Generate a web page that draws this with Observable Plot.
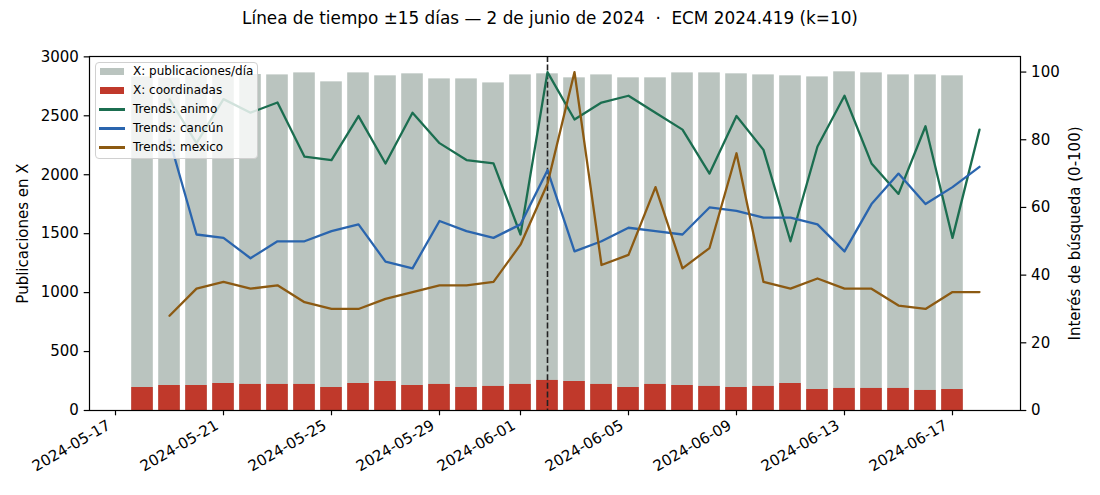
<!DOCTYPE html>
<html><head><meta charset="utf-8">
<script src="https://cdn.jsdelivr.net/npm/d3@7"></script>
<script src="https://cdn.jsdelivr.net/npm/@observablehq/plot@0.6"></script>
<style>
body{margin:0;background:#fff;}
#wrap{position:relative;width:1100px;height:495px;font-family:"DejaVu Sans",sans-serif;color:#000;}
#title{height:36px;line-height:36px;text-align:center;font-size:16.85px;white-space:pre;}
#legend{position:absolute;left:95px;top:62px;width:163px;height:97px;background:rgba(255,255,255,0.8);border:1px solid #d0d0d0;border-radius:4px;box-sizing:border-box;font-size:12px;}
.row{position:absolute;left:0;width:160px;height:19px;}
.row span.t{position:absolute;left:37px;top:0;line-height:19px;white-space:nowrap;}
.row span.p{position:absolute;left:3.5px;top:5.6px;width:24.5px;height:7.7px;}
.row span.l{position:absolute;left:3px;top:8.3px;width:26px;height:2.4px;}
svg{display:block;}
</style>
</head><body>
<div id="wrap">
<div id="title"></div>
<div id="chart"></div>
<div id="legend"></div>
</div>
<script>
const titleText = "Línea de tiempo ±15 días — 2 de junio de 2024  ·  ECM 2024.419 (k=10)";
const barDates = ["2024-05-18","2024-05-19","2024-05-20","2024-05-21","2024-05-22","2024-05-23","2024-05-24","2024-05-25","2024-05-26","2024-05-27","2024-05-28","2024-05-29","2024-05-30","2024-05-31","2024-06-01","2024-06-02","2024-06-03","2024-06-04","2024-06-05","2024-06-06","2024-06-07","2024-06-08","2024-06-09","2024-06-10","2024-06-11","2024-06-12","2024-06-13","2024-06-14","2024-06-15","2024-06-16","2024-06-17"];
const posts = [2830,2820,2840,2850,2850,2847,2864,2788,2864,2839,2856,2813,2813,2779,2847,2856,2822,2847,2822,2822,2864,2864,2856,2847,2839,2830,2873,2864,2847,2847,2839];
const coords = [195,212,212,229,221,221,221,195,229,246,212,221,195,204,221,255,246,221,195,221,212,204,195,204,229,178,187,187,187,170,178];
const trendDates = ["2024-05-19","2024-05-20","2024-05-21","2024-05-22","2024-05-23","2024-05-24","2024-05-25","2024-05-26","2024-05-27","2024-05-28","2024-05-29","2024-05-30","2024-05-31","2024-06-01","2024-06-02","2024-06-03","2024-06-04","2024-06-05","2024-06-06","2024-06-07","2024-06-08","2024-06-09","2024-06-10","2024-06-11","2024-06-12","2024-06-13","2024-06-14","2024-06-15","2024-06-16","2024-06-17","2024-06-18"];
const animo = [92,79,92,88,91,75,74,87,73,88,79,74,73,52,100,86,91,93,88,83,70,87,77,50,78,93,73,64,84,51,83];
const cancun = [80,52,51,45,50,50,53,55,44,42,56,53,51,55,71,47,50,54,53,52,60,59,57,57,55,47,61,70,61,66,72];
const mexico = [28,36,38,36,37,32,30,30,33,35,37,37,38,49,67,100,43,46,66,42,48,76,38,36,39,36,36,31,30,35,35];
const eventDate = "2024-06-02";
const xTicks = ["2024-05-17","2024-05-21","2024-05-25","2024-05-29","2024-06-01","2024-06-05","2024-06-09","2024-06-13","2024-06-17"];
const leftTicks = [0,500,1000,1500,2000,2500,3000];
const rightTicks = [0,20,40,60,80,100];
const xDomain = ["2024-05-16T00:53:00Z","2024-06-19T12:27:00Z"];
const leftMax = 3003, rightMax = 104.6;
const seriesNames = ["X: publicaciones/día","X: coordinadas","Trends: animo","Trends: cancún","Trends: mexico"];
const colors = ["#bac4bf","#c0392b","#1b6e50","#2a65ae","#8c5a12"];
const yLeftLabel = "Publicaciones en X";
const yRightLabel = "Interés de búsqueda (0-100)";

const D = s => new Date(s.length === 10 ? s + "T00:00:00Z" : s);
const DAY = 86400000;
const k = leftMax / rightMax;
const bars = barDates.map((d, i) => ({date: D(d), posts: posts[i], coords: coords[i]}));
const trends = [animo, cancun, mexico].map((arr, s) => trendDates.map((d, i) => ({date: D(d), v: arr[i] * k, s})));
const fmt = d3.utcFormat("%Y-%m-%d");

document.getElementById("title").textContent = titleText;

const tickStyle = {tickSize: 5.3, tickPadding: 5.3, fontSize: 15, strokeWidth: 1.2};
const plot = Plot.plot({
  width: 1100, height: 459,
  marginTop: 20, marginBottom: 85, marginLeft: 89, marginRight: 80,
  style: {fontFamily: "DejaVu Sans, sans-serif", fontSize: "15px", color: "#000", background: "#fff"},
  x: {type: "utc", domain: xDomain.map(D)},
  y: {domain: [0, leftMax]},
  marks: [
    Plot.rectY(bars, {x1: d => new Date(+d.date - 0.4 * DAY), x2: d => new Date(+d.date + 0.4 * DAY), y: "posts", fill: colors[0]}),
    Plot.rectY(bars, {x1: d => new Date(+d.date - 0.4 * DAY), x2: d => new Date(+d.date + 0.4 * DAY), y: "coords", fill: colors[1]}),
    Plot.ruleX([D(eventDate)], {stroke: "#222", strokeWidth: 1.6, strokeDasharray: "6,2.6"}),
    ...trends.map((t, s) => Plot.lineY(t, {x: "date", y: "v", stroke: colors[2 + s], strokeWidth: 2.3, strokeLinejoin: "round"})),
    Plot.frame({stroke: "#000", strokeWidth: 1.2}),
    Plot.axisY(leftTicks, {anchor: "left", tickFormat: d => String(d), ...tickStyle}),
    Plot.axisY(rightTicks.map(v => v * k), {anchor: "right", tickFormat: d => String(Math.round(d / k)), ...tickStyle}),
    Plot.axisX(xTicks.map(D), {anchor: "bottom", tickFormat: () => "", ...tickStyle}),
    Plot.text(xTicks.map(D), {x: d => d, frameAnchor: "bottom", text: d => fmt(d), rotate: -30, textAnchor: "end", dx: -4, dy: 17.6, fontSize: 15, fill: "#000"}),
    Plot.text([yLeftLabel], {frameAnchor: "left", text: d => d, rotate: -90, textAnchor: "middle", dx: -66, fontSize: 15, fill: "#000"}),
    Plot.text([yRightLabel], {frameAnchor: "right", text: d => d, rotate: -90, textAnchor: "middle", dx: 55, fontSize: 15, fill: "#000"})
  ]
});
document.getElementById("chart").appendChild(plot);

const lg = document.getElementById("legend");
seriesNames.forEach((name, i) => {
  const row = document.createElement("div");
  row.className = "row";
  row.style.top = (-0.8 + 19 * i) + "px";
  const sw = document.createElement("span");
  sw.className = i < 2 ? "p" : "l";
  sw.style.background = colors[i];
  const t = document.createElement("span");
  t.className = "t";
  t.textContent = name;
  row.appendChild(sw); row.appendChild(t);
  lg.appendChild(row);
});
</script>
</body></html>
